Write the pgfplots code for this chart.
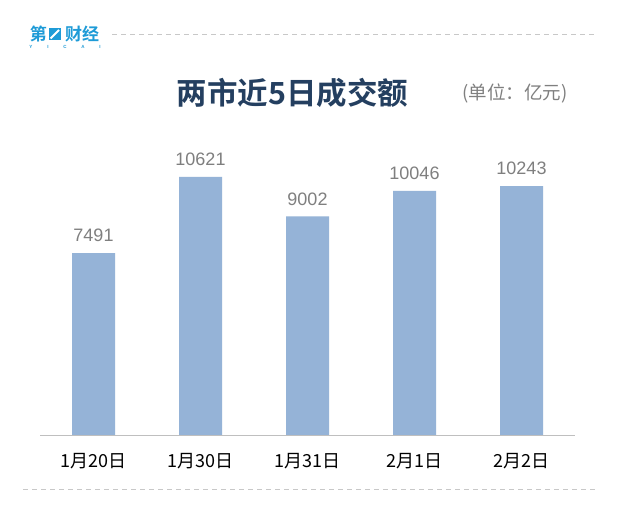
\documentclass[border=0pt]{standalone}
\usepackage{pgfplots}
\pgfplotsset{compat=1.18}
\usepackage{fontspec}
\setmainfont{Liberation Sans}
\newfontfamily\cjk{Noto Sans CJK SC}[BoldFont={Noto Sans CJK SC Bold}]
\definecolor{barblue}{HTML}{95B3D7}
\definecolor{titlenavy}{HTML}{243F60}
\definecolor{logoblue}{HTML}{1E9BD7}
\definecolor{dashgray}{HTML}{C8C8C8}
\definecolor{axisgray}{HTML}{BFBFBF}
\definecolor{labelgray}{HTML}{7F7F7F}
\begin{document}
\begin{tikzpicture}
% canvas: 619 x 516
\path[use as bounding box, fill=white] (0pt,0pt) rectangle (619pt,516pt);

% header and footer rules
\draw[dashgray, line width=1pt, dash pattern=on 5pt off 4pt] (112pt,481.5pt) -- (595pt,481.5pt);
\draw[dashgray, line width=1pt, dash pattern=on 5pt off 4pt] (23pt,26pt) -- (595pt,26pt);

% logo
\node[anchor=center, inner sep=0, text=logoblue, font=\cjk\bfseries\fontsize{17}{17}\selectfont] at (38.5pt,482pt) {第};
\fill[logoblue] (48.5pt,475.5pt) rectangle (61pt,488pt);
\draw[white, line width=2pt] (50.5pt,477.5pt) -- (59pt,486pt);
\node[anchor=center, inner sep=0, text=logoblue, font=\cjk\bfseries\fontsize{17}{17}\selectfont] at (82pt,482pt) {财经};
\foreach \x/\c in {31/Y,48/I,65/C,83/A,100/I}
  \node[inner sep=0, text=logoblue, font=\bfseries\fontsize{4.5}{5}\selectfont] at (\x pt,469pt) {\c};

% title and unit
\node[inner sep=0, text=titlenavy, font=\cjk\bfseries\fontsize{30.5}{33}\selectfont] at (292.5pt,423pt) {两市近5日成交额};
\node[inner sep=0, text=labelgray, font=\cjk\fontsize{18.5}{20}\selectfont] at (515pt,423pt) {(单位：亿元)};

\begin{axis}[
  at={(40pt,81pt)}, anchor=south west,
  scale only axis, width=535pt, height=291.5pt,
  xmin=-0.5, xmax=4.5, ymin=0, ymax=12000,
  axis y line=none,
  axis x line*=bottom,
  x axis line style={axisgray, line width=0.8pt, -},
  xtick=data,
  xticklabels={1月20日,1月30日,1月31日,2月1日,2月2日},
  major tick length=0pt,
  xticklabel style={font=\cjk\fontsize{18}{20}\selectfont, text=black, anchor=center, yshift=-26.5pt},
  ybar, bar width=43pt,
  /pgf/number format/1000 sep={},
  /pgf/number format/assume math mode=true,
  nodes near coords,
  every node near coord/.append style={font=\fontsize{18}{20}\selectfont, text=labelgray, anchor=center, yshift=17.5pt},
  clip=false,
]
\addplot[fill=barblue, draw=none] coordinates {(0,7491) (1,10621) (2,9002) (3,10046) (4,10243)};
\end{axis}
\end{tikzpicture}
\end{document}
